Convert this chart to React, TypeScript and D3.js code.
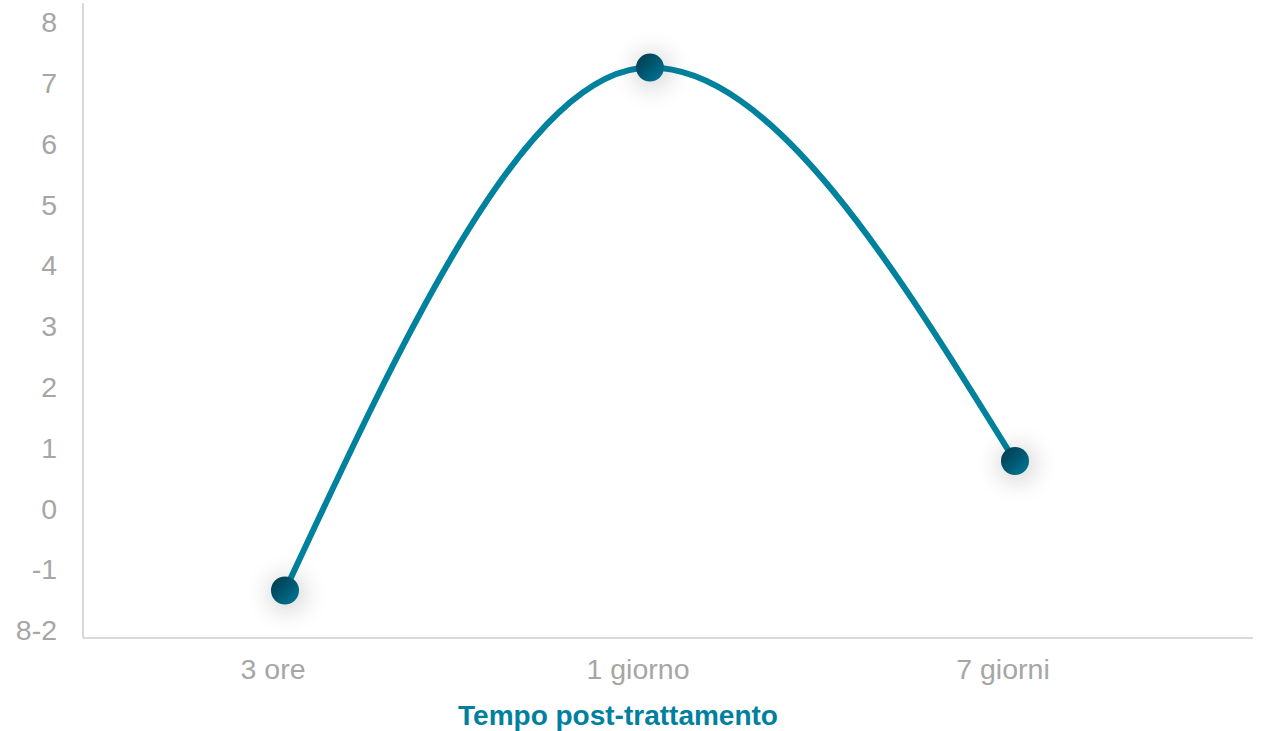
import React, { useRef, useEffect } from 'react';
import * as d3 from 'd3';

// chart data
const categories = ['3 ore', '1 giorno', '7 giorni'];
const values = [-1.35, 7.25, 0.78];
const yTicks = [8, 7, 6, 5, 4, 3, 2, 1, 0, -1, -2];
const yTickLabels = ['8', '7', '6', '5', '4', '3', '2', '1', '0', '-1', '8-2'];
const xTitle = 'Tempo post-trattamento';

const W = 1264;
const H = 731;

const App = () => {
  const svgRef = useRef<SVGSVGElement>(null);

  useEffect(() => {
    const svg = d3.select(svgRef.current);
    svg.selectAll('*').remove();

    const font = 'Liberation Sans, Arial, sans-serif';
    const axisX = 83;
    const axisY = 638;

    const yScale = d3.scaleLinear().domain([-2, 8]).range([630, 22]);
    const xScale = d3.scalePoint<string>().domain(categories).range([285, 1015]);

    const defs = svg.append('defs');
    const grad = defs.append('linearGradient')
      .attr('id', 'dotGrad')
      .attr('x1', '0%').attr('y1', '0%')
      .attr('x2', '100%').attr('y2', '100%');
    grad.append('stop').attr('offset', '0%').attr('stop-color', '#00374a');
    grad.append('stop').attr('offset', '100%').attr('stop-color', '#007a98');

    const shadow = defs.append('filter')
      .attr('id', 'glow')
      .attr('x', '-300%').attr('y', '-300%')
      .attr('width', '700%').attr('height', '700%');
    shadow.append('feGaussianBlur').attr('in', 'SourceAlpha').attr('stdDeviation', 14).attr('result', 'b');
    shadow.append('feOffset').attr('in', 'b').attr('dx', 2).attr('dy', 3).attr('result', 'o');
    shadow.append('feComponentTransfer').attr('in', 'o').attr('result', 's')
      .append('feFuncA').attr('type', 'linear').attr('slope', 0.3);
    const merge = shadow.append('feMerge');
    merge.append('feMergeNode').attr('in', 's');
    merge.append('feMergeNode').attr('in', 'SourceGraphic');

    // axes lines
    svg.append('line')
      .attr('x1', axisX).attr('x2', axisX)
      .attr('y1', 3).attr('y2', axisY)
      .attr('stroke', '#d9d9d9').attr('stroke-width', 2);
    svg.append('line')
      .attr('x1', axisX).attr('x2', 1253)
      .attr('y1', axisY).attr('y2', axisY)
      .attr('stroke', '#d9d9d9').attr('stroke-width', 2);

    // y tick labels
    svg.append('g').selectAll('text')
      .data(yTicks)
      .join('text')
      .attr('x', 57)
      .attr('y', d => yScale(d))
      .attr('dy', '0.36em')
      .attr('text-anchor', 'end')
      .attr('font-family', font)
      .attr('font-size', 28.5)
      .attr('fill', '#a6a6a6')
      .text((d, i) => yTickLabels[i]);

    // x tick labels
    svg.append('g').selectAll('text')
      .data(categories)
      .join('text')
      .attr('x', d => (xScale(d) as number) - 12)
      .attr('y', 679)
      .attr('text-anchor', 'middle')
      .attr('font-family', font)
      .attr('font-size', 28.5)
      .attr('fill', '#a6a6a6')
      .text(d => d);

    // axis title
    svg.append('text')
      .attr('x', 618)
      .attr('y', 725)
      .attr('text-anchor', 'middle')
      .attr('font-family', font)
      .attr('font-size', 28)
      .attr('font-weight', 'bold')
      .attr('fill', '#00809f')
      .text(xTitle);

    const data = categories.map((c, i) => ({ c, v: values[i] }));

    const line = d3.line<{ c: string; v: number }>()
      .x(d => xScale(d.c) as number)
      .y(d => yScale(d.v))
      .curve(d3.curveMonotoneX);

    svg.append('path')
      .datum(data)
      .attr('d', line)
      .attr('fill', 'none')
      .attr('stroke', '#00829f')
      .attr('stroke-width', 6);

    svg.append('g').selectAll('circle')
      .data(data)
      .join('circle')
      .attr('cx', d => xScale(d.c) as number)
      .attr('cy', d => yScale(d.v))
      .attr('r', 14)
      .attr('fill', 'url(#dotGrad)')
      .attr('filter', 'url(#glow)');
  }, []);

  return (
    <svg ref={svgRef} width={W} height={H} style={{ display: 'block', position: 'absolute', left: 0, top: 0 }} />
  );
};

export default App;
